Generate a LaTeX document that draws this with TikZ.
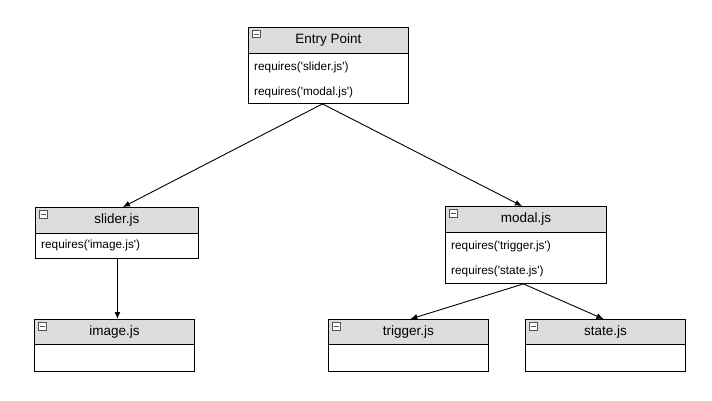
\documentclass[tikz,border=0pt]{standalone}
\usepackage{fontspec}
\setmainfont{Liberation Sans}[Ligatures=TeXOff]
\usetikzlibrary{arrows.meta}
\definecolor{hdrgray}{HTML}{DCDCDC}
\definecolor{icongray}{HTML}{555555}
\newcommand\hdrfont{\fontsize{13.5}{16}\selectfont}
\newcommand\rowfont{\fontsize{11.8}{14}\selectfont}
\begin{document}
\begin{tikzpicture}[x=1pt,y=-1pt,
  hdr/.style={draw=black, line width=0.9pt, fill=hdrgray, anchor=north west, inner sep=0pt, font=\hdrfont},
  bdy/.style={draw=black, line width=0.9pt, fill=white, anchor=north west, inner sep=0pt},
  rowtxt/.style={anchor=west, inner sep=0pt, font=\rowfont},
  icon/.style={draw=icongray, line width=0.6pt, fill=white, anchor=north west, minimum size=7.5pt, inner sep=0pt},
  iconbar/.style={draw=icongray, line width=0.9pt},
  arr/.style={draw=black, line width=0.9pt, -{Latex[length=7pt,width=6pt]}}]
\useasboundingbox[fill=white] (0,0) rectangle (712,401);

% Entry Point
\node[hdr, minimum width=160pt, minimum height=26pt] (entryh) at (248,27) {Entry Point};
\node[bdy, minimum width=160pt, minimum height=50pt] (entryb) at (248,53) {};
\node[rowtxt] (entryr1) at (254,67) {requires('slider.js')};
\node[rowtxt] (entryr2) at (254,92) {requires('modal.js')};
\node[icon] (entryi) at (252,30) {};
\draw[iconbar] ([xshift=1.5pt]entryi.west) -- ([xshift=-1.5pt]entryi.east);

% slider.js
\node[hdr, minimum width=163pt, minimum height=26pt] (sliderh) at (35,207) {slider.js};
\node[bdy, minimum width=163pt, minimum height=25pt] (sliderb) at (35,233) {};
\node[rowtxt] (sliderr1) at (41,245) {requires('image.js')};
\node[icon] (slideri) at (39,210) {};
\draw[iconbar] ([xshift=1.5pt]slideri.west) -- ([xshift=-1.5pt]slideri.east);

% modal.js
\node[hdr, minimum width=161pt, minimum height=26pt] (modalh) at (445,206) {modal.js};
\node[bdy, minimum width=161pt, minimum height=51pt] (modalb) at (445,232) {};
\node[rowtxt] (modalr1) at (451,246) {requires('trigger.js')};
\node[rowtxt] (modalr2) at (451,271) {requires('state.js')};
\node[icon] (modali) at (449,209) {};
\draw[iconbar] ([xshift=1.5pt]modali.west) -- ([xshift=-1.5pt]modali.east);

% image.js
\node[hdr, minimum width=160pt, minimum height=25pt] (imageh) at (34,319) {image.js};
\node[bdy, minimum width=160pt, minimum height=27pt] (imageb) at (34,344) {};
\node[icon] (imagei) at (38,322) {};
\draw[iconbar] ([xshift=1.5pt]imagei.west) -- ([xshift=-1.5pt]imagei.east);

% trigger.js
\node[hdr, minimum width=160pt, minimum height=25pt] (triggerh) at (328,319) {trigger.js};
\node[bdy, minimum width=160pt, minimum height=27pt] (triggerb) at (328,344) {};
\node[icon] (triggeri) at (332,322) {};
\draw[iconbar] ([xshift=1.5pt]triggeri.west) -- ([xshift=-1.5pt]triggeri.east);

% state.js
\node[hdr, minimum width=160pt, minimum height=25pt] (stateh) at (525,319) {state.js};
\node[bdy, minimum width=160pt, minimum height=27pt] (stateb) at (525,344) {};
\node[icon] (statei) at (529,322) {};
\draw[iconbar] ([xshift=1.5pt]statei.west) -- ([xshift=-1.5pt]statei.east);

% connector end points
\coordinate (eout) at ([xshift=-6pt]entryb.south);
\coordinate (sin) at ([xshift=6pt]sliderh.north);
\coordinate (min) at ([xshift=-4pt]modalh.north);
\coordinate (mout) at ([xshift=-2.5pt]modalb.south);
\coordinate (tin) at ([xshift=2pt]triggerh.north);
\coordinate (stin) at ([xshift=-2pt]stateh.north);
\coordinate (sout) at ([xshift=0.5pt]sliderb.south);
\coordinate (iin) at (sout |- imageh.north);

\draw[arr] (eout) -- (sin);
\draw[arr] (eout) -- (min);
\draw[arr] (sout) -- (iin);
\draw[arr] (mout) -- (tin);
\draw[arr] (mout) -- (stin);
\end{tikzpicture}
\end{document}
